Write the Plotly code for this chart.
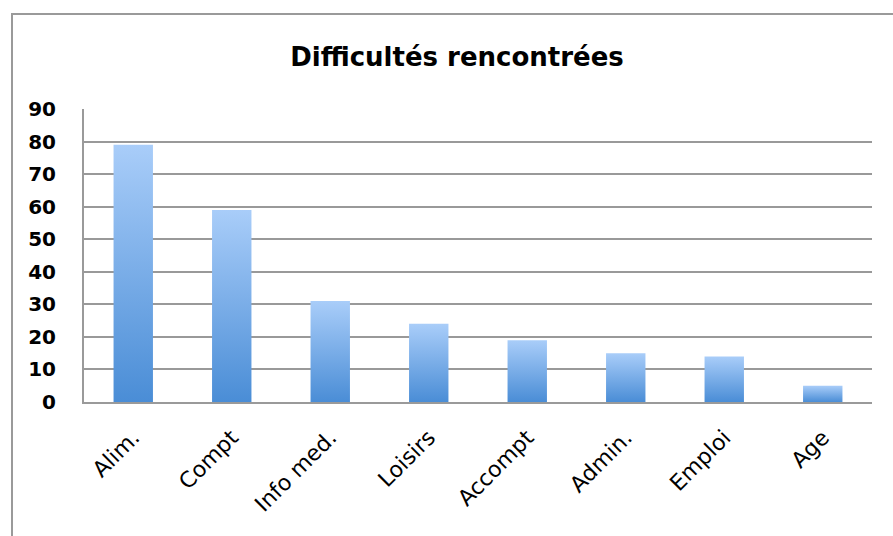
import plotly.graph_objects as go

categories = ["Alim.", "Compt", "Info med.", "Loisirs", "Accompt", "Admin.", "Emploi", "Age"]
values = [79, 59, 31, 24, 19, 15, 14, 5]
y_ticks = [0, 10, 20, 30, 40, 50, 60, 70, 80, 90]
title_text = "Difficultés rencontrées"

W, H = 893, 536
L, R, T, B = 84, 21, 109, 134
half = 0.2

fig = go.Figure()
for i, (cat, v) in enumerate(zip(categories, values)):
    fig.add_trace(go.Scatter(
        x=[i - half, i + half, i + half, i - half, i - half],
        y=[0, 0, v, v, 0],
        mode="lines", fill="toself",
        line=dict(width=0, color="rgba(0,0,0,0)"),
        fillgradient=dict(type="vertical",
                          colorscale=[[0, "#4a8dd6"], [1, "#a9cdf9"]]),
        name=cat, showlegend=False,
        hovertemplate=f"{cat}: {v}<extra></extra>",
    ))

pw = W - L - R
ph = H - T - B
fig.add_shape(type="rect", xref="paper", yref="paper",
              x0=(12 - L) / pw, x1=(W + 10 - L) / pw,
              y0=-(H + 10 - T - ph) / ph, y1=(H - 14 - B) / ph,
              line=dict(color="#9a9a9a", width=2), layer="below")

fig.update_layout(
    width=W, height=H,
    margin=dict(l=L, r=R, t=T, b=B),
    paper_bgcolor="white", plot_bgcolor="white",
    title=dict(text=title_text, x=457 / W, xanchor="center", xref="container",
               y=1 - 57 / H, yanchor="middle", yref="container",
               font=dict(family="DejaVu Sans", size=26, color="black", weight="bold")),
    font=dict(family="DejaVu Sans", color="black"),
)
fig.update_xaxes(
    range=[-0.5, len(categories) - 0.5],
    tickmode="array", tickvals=list(range(len(categories))), ticktext=categories,
    tickangle=-45, tickfont=dict(size=22, family="DejaVu Sans"),
    showgrid=False, zeroline=False,
    showline=True, linecolor="#9a9a9a", linewidth=2,
    ticks="", ticklabelstandoff=12, ticklabelshift=0, fixedrange=True,
)
fig.update_yaxes(
    range=[0, 90], tickmode="array", tickvals=y_ticks,
    tickfont=dict(size=20, family="DejaVu Sans", weight="bold"),
    showgrid=True, gridcolor="#999999", gridwidth=1.5,
    zeroline=False, showline=True, linecolor="#9a9a9a", linewidth=2,
    ticks="", ticklabelstandoff=22, fixedrange=True,
)

fig.write_html("out.html", config={"displayModeBar": False},
               post_script="document.body.style.margin='0';")
